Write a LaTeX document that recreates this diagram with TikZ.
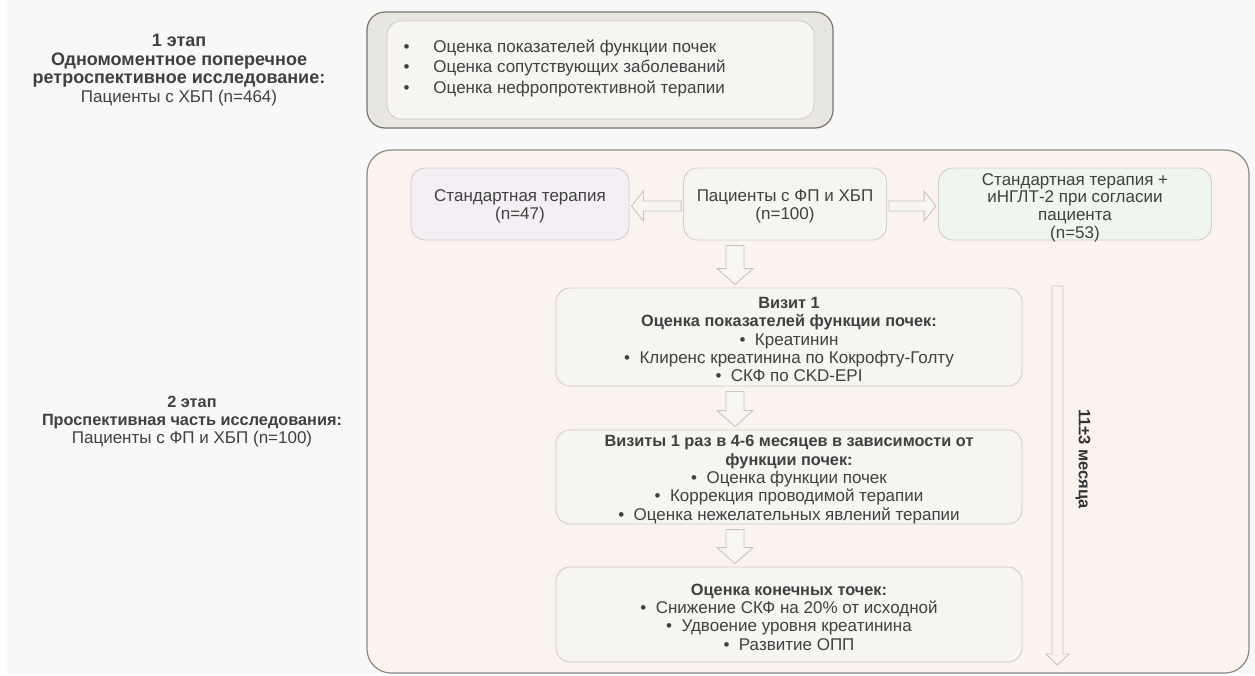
\documentclass[tikz,border=0pt]{standalone}
\usepackage{fontspec}
\setmainfont{Liberation Sans}
\usetikzlibrary{calc}
\definecolor{pagebg}{HTML}{F8F8F8}
\definecolor{txt}{HTML}{404040}
\definecolor{txtb}{HTML}{333333}
\definecolor{outerAfill}{HTML}{E8E6E0}
\definecolor{outerAdraw}{HTML}{7A7568}
\definecolor{innerfill}{HTML}{F6F5F2}
\definecolor{innerdraw}{HTML}{D2CEC8}
\definecolor{outerBfill}{HTML}{FBF3EE}
\definecolor{outerBdraw}{HTML}{8C8883}
\definecolor{lavfill}{HTML}{F4EFF4}
\definecolor{greenfill}{HTML}{EEF6EE}
\definecolor{arrowdraw}{HTML}{C8C4C0}
\definecolor{arrowfill}{HTML}{F8F6F3}
\newcommand{\bt}[1]{{\fontsize{16.3}{18.3}\selectfont\bfseries #1}}
\newcommand{\bu}{\textbullet\ \ }
\tikzset{
  outerA/.style={draw=outerAdraw, fill=outerAfill, line width=1.2pt, rounded corners=18pt},
  outerB/.style={draw=outerBdraw, fill=outerBfill, line width=1.2pt, rounded corners=24pt},
  inbox/.style={draw=innerdraw, fill=innerfill, line width=0.9pt, rounded corners=14pt, inner sep=0pt},
  boxtext/.style={inner sep=0pt, text=txt, align=center, font=\fontsize{17}{18.3}\selectfont, yshift=-2.5pt},
  stagelbl/.style={align=center, text=txt},
  hollow/.style={draw=arrowdraw, fill=arrowfill, line width=0.9pt, line join=miter},
}
\begin{document}
\begin{tikzpicture}[x=1pt,y=-1pt]
\useasboundingbox (0,0) rectangle (1255,675);
\fill[white] (0,0) rectangle (1255,675);
\fill[pagebg] (7,0) rectangle (1255,673);

% stage labels
\node[stagelbl, font=\fontsize{17}{18.4}\selectfont] (s1) at (179,70) {{\fontsize{18}{18.4}\selectfont\bfseries 1 этап}\\ {\fontsize{18}{18.4}\selectfont\bfseries Одномоментное поперечное}\\ {\fontsize{18}{18.4}\selectfont\bfseries ретроспективное исследование:}\\ Пациенты с ХБП (n=464)};
\node[stagelbl, font=\fontsize{17}{18}\selectfont] (s2) at (192,422) {\bt{2 этап}\\ \bt{Проспективная часть исследования:}\\ Пациенты с ФП и ХБП (n=100)};

% stage 1 boxes
\node[outerA, minimum width=466pt, minimum height=116pt] (o1) at (600,70) {};
\node[inbox, minimum width=427pt, minimum height=98pt] (i1) at (600.5,70) {};
\node[anchor=west, align=left, text=txt, font=\fontsize{17}{20.5}\selectfont] (t1) at (400,68)
  {\textbullet\hspace{24pt}Оценка показателей функции почек\\
   \textbullet\hspace{24pt}Оценка сопутствующих заболеваний\\
   \textbullet\hspace{24pt}Оценка нефропротективной терапии};

% stage 2 outer
\node[outerB, minimum width=882pt, minimum height=523pt] (o2) at (808,411.5) {};

% top row
\node[inbox, fill=lavfill, minimum width=218pt, minimum height=72pt] (std) at (520,204) {};
\node[boxtext] (stdt) at (std.center) {Стандартная терапия\\(n=47)};
\node[inbox, minimum width=203pt, minimum height=72pt] (pat) at (785,204) {};
\node[boxtext] (patt) at (pat.center) {Пациенты с ФП и ХБП\\(n=100)};
\node[inbox, fill=greenfill, minimum width=273pt, minimum height=72pt] (sgl) at (1075,204) {};
\node[boxtext, font=\fontsize{17}{17.7}\selectfont, yshift=-1pt] (sglt) at (sgl.center) {Стандартная терапия +\\иНГЛТ-2 при согласии\\пациента\\(n=53)};

% main column
\node[inbox, minimum width=466pt, minimum height=98pt] (v1) at (789,337) {};
\node[boxtext] (v1t) at (v1.center) {\bt{Визит 1}\\ \bt{Оценка показателей функции почек:}\\ \bu Креатинин\\ \bu Клиренс креатинина по Кокрофту-Голту\\ \bu СКФ по CKD-EPI};
\node[inbox, minimum width=466pt, minimum height=94pt] (v2) at (789,477) {};
\node[boxtext] (v2t) at (v2.center) {\bt{Визиты 1 раз в 4-6 месяцев в зависимости от}\\ \bt{функции почек:}\\ \bu Оценка функции почек\\ \bu Коррекция проводимой терапии\\ \bu Оценка нежелательных явлений терапии};
\node[inbox, minimum width=466pt, minimum height=95pt] (ep) at (789,614.5) {};
\node[boxtext] (ept) at (ep.center) {\bt{Оценка конечных точек:}\\ \bu Снижение СКФ на 20\% от исходной\\ \bu Удвоение уровня креатинина\\ \bu Развитие ОПП};

% horizontal hollow arrows
\path[hollow] let \p1=(pat.west), \p2=(std.east) in
  (\x1-2pt,\y1+3pt) -- (\x2+14pt,\y1+3pt) -- (\x2+14pt,\y1+13pt) -- (\x2+2pt,\y1-2pt)
  -- (\x2+14pt,\y1-17pt) -- (\x2+14pt,\y1-7pt) -- (\x1-2pt,\y1-7pt) -- cycle;
\path[hollow] let \p1=(pat.east), \p2=(sgl.west) in
  (\x1+2pt,\y1+3pt) -- (\x2-14pt,\y1+3pt) -- (\x2-14pt,\y1+13pt) -- (\x2-2pt,\y1-2pt)
  -- (\x2-14pt,\y1-17pt) -- (\x2-14pt,\y1-7pt) -- (\x1+2pt,\y1-7pt) -- cycle;

% vertical hollow arrows
\newcommand{\vhollow}[3]{%
\path[hollow] let \p1=#1, \p2=#2 in
  (#3-9pt,\y1-5pt) -- (#3+9pt,\y1-5pt) -- (#3+9pt,\y2+19pt) -- (#3+18pt,\y2+19pt)
  -- (#3,\y2+3pt) -- (#3-18pt,\y2+19pt) -- (#3-9pt,\y2+19pt) -- cycle;}
\vhollow{(pat.south)}{(v1.north)}{735pt}
\vhollow{(v1.south)}{(v2.north)}{735pt}
\vhollow{(v2.south)}{(ep.north)}{735pt}

% long time arrow
\coordinate (ta) at (1057.5,286);
\coordinate (tb) at (1057.5,665);
\path[hollow, fill=outerBfill] let \p1=(ta), \p2=(tb) in
  (\x1-5.5pt,\y1) -- (\x1+5.5pt,\y1) -- (\x1+5.5pt,\y2+11pt) -- (\x1+11.5pt,\y2+11pt)
  -- (\x1,\y2) -- (\x1-11.5pt,\y2+11pt) -- (\x1-5.5pt,\y2+11pt) -- cycle;
\node[rotate=-90, text=txtb, font=\fontsize{16.5}{18}\selectfont\bfseries] (tl) at (1083,459) {11±3 месяца};
\end{tikzpicture}
\end{document}
